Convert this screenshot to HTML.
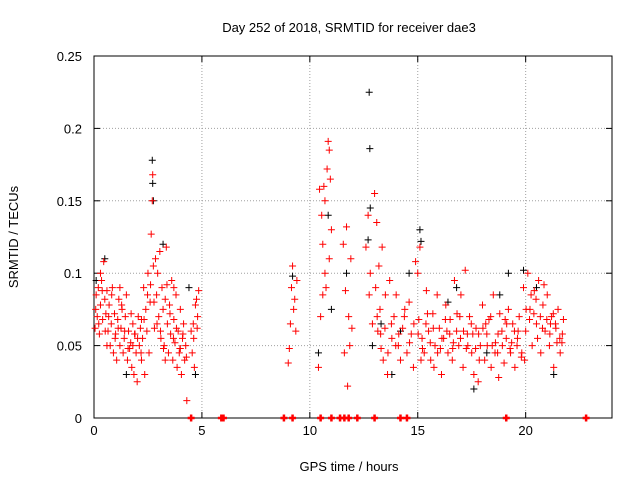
<!DOCTYPE html>
<html><head><meta charset="utf-8">
<style>
body{margin:0;background:#fff;}
svg{display:block;font-family:"Liberation Sans",sans-serif;font-size:13px;}
</style></head>
<body>
<svg id="chart" width="640" height="480" viewBox="0 0 640 480">
<text x="349" y="32" text-anchor="middle">Day 252 of 2018, SRMTID for receiver dae3</text>
<text transform="translate(18,237) rotate(-90)" text-anchor="middle">SRMTID / TECUs</text>
<text x="349" y="471" text-anchor="middle">GPS time / hours</text>
<g id="grid"></g><g id="axes"></g><g id="marks"></g>
</svg>
<script>
const xTicks=[0,5,10,15,20];
const yTicks=[0,0.05,0.1,0.15,0.2,0.25];
const yTickLabels=["0","0.05","0.1","0.15","0.2","0.25"];
const redHours=[0.05,0.1,0.15,0.2,0.25,0.3,0.35,0.4,0.45,0.5,0.55,0.6,0.65,0.7,0.75,0.8,0.85,0.9,0.95,1.0,1.05,1.1,1.15,1.2,1.25,1.3,1.35,1.4,1.45,1.5,1.55,1.6,1.65,1.7,1.75,1.8,1.85,1.9,1.95,2.0,2.05,2.1,2.15,2.2,2.25,2.3,2.35,2.4,2.45,2.5,2.55,2.6,2.65,2.7,2.72,2.75,2.8,2.85,2.9,2.95,3.0,3.05,3.1,3.15,3.2,3.25,3.3,3.35,3.4,3.45,3.5,3.55,3.6,3.65,3.7,3.75,3.8,3.85,3.9,3.95,4.0,4.05,4.1,4.15,4.2,4.25,4.3,4.5,4.55,4.6,4.65,4.7,4.75,4.8,4.85,
9.0,9.05,9.1,9.15,9.2,9.25,9.3,9.35,9.4,
10.4,10.45,10.5,10.55,10.6,10.65,10.7,10.75,10.8,10.85,10.9,10.95,11.0,10.6,10.7,10.9,
11.55,11.6,11.65,11.7,11.75,11.8,11.85,11.9,11.95,
12.6,12.7,12.75,12.8,12.9,13.0,13.05,13.1,13.15,13.2,13.25,13.3,13.35,13.4,13.5,13.6,13.7,13.8,13.9,14.0,14.1,14.2,14.3,14.4,14.5,14.6,14.7,14.8,14.9,15.0,15.05,15.1,15.2,15.3,15.4,15.5,15.6,15.7,15.8,15.9,16.0,16.1,16.2,16.3,16.4,16.5,16.6,16.7,16.8,16.9,17.0,17.1,17.2,17.3,17.4,17.5,17.6,17.7,17.8,17.9,18.0,18.1,18.2,18.3,18.4,18.5,18.6,18.7,18.8,18.9,19.0,19.1,19.2,19.3,19.4,19.5,19.6,19.7,19.8,19.9,20.0,20.1,20.2,20.3,20.4,20.5,20.6,20.7,20.8,20.9,21.0,21.1,21.2,21.3,21.4,21.5,21.6,21.7,
15.15,15.45,15.75,16.05,16.35,16.65,16.95,17.25,17.55,17.85,18.15,18.45,18.75,19.05,19.35,19.65,19.95,20.25,20.55,20.85,21.15,21.45,21.75,0.3,0.6,1.2,1.8,2.2,3.3,3.7,4.0,
0.08,0.22,0.38,0.52,0.68,0.82,0.98,1.12,1.28,1.42,1.58,1.72,1.88,2.02,2.18,2.32,2.48,2.62,2.78,2.92,3.08,3.22,3.38,3.52,3.68,3.82,3.98,4.12,4.28,4.62,4.78,
15.02,15.22,15.38,15.58,15.72,15.92,16.12,16.28,16.48,16.62,16.82,16.98,17.12,17.32,17.48,17.68,17.82,18.02,18.22,18.38,18.58,18.72,18.92,19.12,19.28,19.48,19.62,19.82,20.02,20.18,20.38,20.48,20.68,20.78,20.98,21.12,21.28,21.38,21.58,21.68,
13.12,13.28,13.48,13.62,13.78,13.98,14.12,14.38,14.62,14.82];
const redValues=[.062,.085,.07,.09,.058,.078,.095,.068,.108,.082,.072,.088,.06,.078,.05,.065,.09,.045,.072,.058,.04,.068,.082,.05,.062,.075,.045,.055,.07,.085,.04,.06,.048,.052,.035,.065,.03,.058,.045,.025,.07,.05,.062,.04,.055,.09,.03,.075,.06,.1,.045,.08,.127,.15,.168,.105,.062,.11,.085,.1,.07,.115,.055,.09,.075,.05,.082,.118,.065,.045,.078,.058,.095,.04,.068,.052,.085,.035,.06,.045,.075,.03,.055,.065,.04,.05,.012,.06,.045,.065,.035,.078,.082,.07,.088,
.038,.048,.065,.09,.105,.075,.082,.06,.095,
.035,.158,.07,.14,.12,.16,.1,.09,.172,.191,.185,.165,.13,.085,.15,.11,
.12,.045,.088,.132,.022,.07,.05,.11,.062,
.118,.14,.085,.1,.065,.155,.09,.135,.06,.105,.075,.048,.118,.04,.085,.03,.095,.055,.07,.085,.05,.04,.062,.075,.045,.08,.058,.035,.108,.1,.068,.118,.055,.045,.088,.06,.04,.072,.05,.085,.062,.03,.055,.078,.045,.068,.04,.095,.06,.05,.085,.035,.102,.058,.07,.045,.03,.062,.025,.05,.078,.04,.058,.068,.035,.085,.052,.045,.072,.06,.038,.055,.075,.045,.065,.035,.05,.07,.042,.09,.06,.1,.075,.05,.088,.065,.095,.045,.078,.06,.085,.05,.07,.035,.062,.075,.045,.058,
.04,.072,.035,.048,.06,.052,.07,.048,.058,.04,.065,.05,.028,.068,.052,.06,.04,.085,.055,.092,.065,.052,.068,.1,.05,.09,.05,.068,.04,.09,.048,
.075,.065,.088,.06,.07,.085,.055,.062,.078,.06,.048,.072,.058,.055,.045,.068,.085,.092,.08,.065,.06,.048,.092,.072,.055,.062,.048,.058,.042,.055,.062,
.058,.048,.065,.052,.062,.045,.055,.068,.058,.048,.072,.055,.06,.05,.065,.048,.058,.062,.05,.07,.045,.058,.05,.065,.048,.06,.055,.045,.075,.068,.072,.082,.07,.062,.068,.058,.072,.065,.055,.052,
.07,.058,.062,.045,.065,.05,.058,.07,.052,.065];
const blackHours=[2.7,2.72,2.75,12.75,12.78,12.8,12.7,15.1,15.15,10.4,10.85,0.1,0.5,1.5,3.2,4.4,4.7,9.2,11.0,11.7,13.3,13.8,14.6,16.4,17.6,18.2,19.2,19.9,20.5,21.3,12.9,14.2,16.8,18.8];
const blackValues=[.178,.162,.15,.225,.186,.145,.123,.13,.122,.045,.14,.095,.11,.03,.12,.09,.03,.098,.075,.1,.065,.03,.1,.08,.02,.045,.1,.102,.09,.03,.05,.06,.09,.085];
const zeroHours=[4.5,5.9,6.0,8.8,9.2,10.5,11.0,11.4,11.6,11.8,12.2,13.0,14.2,14.5,19.1,22.8];

const L=94,R=612,T=56,B=418,NS="http://www.w3.org/2000/svg";
const xs=h=>L+(R-L)*h/24, ys=v=>B-(B-T)*v/0.25;
function mk(tag,at,parent){const e=document.createElementNS(NS,tag);for(const k in at)e.setAttribute(k,at[k]);parent.appendChild(e);return e;}
const grid=document.getElementById('grid'),axes=document.getElementById('axes'),marks=document.getElementById('marks');
xTicks.forEach(t=>{const x=xs(t);
 if(t>0){const g=mk('line',{x1:x,x2:x,y1:T,y2:B,stroke:'#a0a0a0','stroke-dasharray':'1,2'},grid);
 
 }
 mk('line',{x1:x,x2:x,y1:B,y2:B-6,stroke:'#000'},axes);mk('line',{x1:x,x2:x,y1:T,y2:T+6,stroke:'#000'},axes);
 const tx=mk('text',{x:x,y:B+17,'text-anchor':'middle'},axes);tx.textContent=t;
 
 });
yTicks.forEach((t,i)=>{const y=ys(t);
 if(t>0&&t<0.25){const g=mk('line',{x1:L,x2:R,y1:y,y2:y,stroke:'#a0a0a0','stroke-dasharray':'1,2'},grid);
 
 }
 mk('line',{x1:L,x2:L+6,y1:y,y2:y,stroke:'#000'},axes);mk('line',{x1:R,x2:R-6,y1:y,y2:y,stroke:'#000'},axes);
 const tx=mk('text',{x:L-12,y:y+5,'text-anchor':'end'},axes);tx.textContent=yTickLabels[i];
 
 });
const fr=mk('rect',{x:L,y:T,width:R-L,height:B-T,fill:'none',stroke:'#000'},axes);


function plus(h,v,col,name){const x=xs(h),y=ys(v);
 const p=mk('path',{d:`M${x-3.5},${y}h7M${x},${y-3.5}v7`,stroke:col,'stroke-width':1,fill:'none'},marks);
 
 }
blackHours.forEach((h,i)=>plus(h,blackValues[i],'#000','black-point'));
redHours.forEach((h,i)=>plus(h,redValues[i],'#f00','red-point'));
zeroHours.forEach(h=>{const x=xs(h);
 const p=mk('path',{d:`M${x-3.5},${B}h7M${x},${B-3.5}v7`,stroke:'#f00','stroke-width':2.5,fill:'none'},marks);
 
 });
</script>
</body></html>
